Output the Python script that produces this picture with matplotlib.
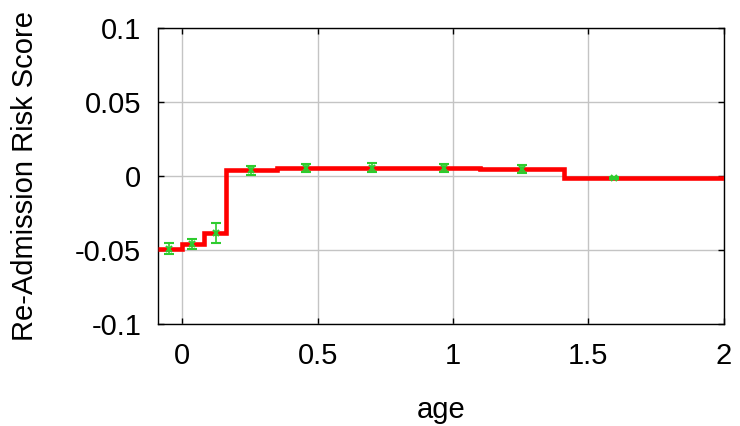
import numpy as np
import matplotlib.pyplot as plt

plt.rcParams['font.family'] = ['Liberation Sans', 'DejaVu Sans']

# step curve: bin edges and level in each bin
edges = [-0.09, 0.0, 0.08, 0.16, 0.35, 1.10, 1.41, 2.0]
levels = [-0.049, -0.046, -0.0385, 0.004, 0.0055, 0.005, -0.0015]

# per-bin means with error bars
pt_x = [-0.05, 0.037, 0.125, 0.255, 0.455, 0.70, 0.965, 1.255, 1.595]
pt_y = [-0.049, -0.046, -0.0385, 0.004, 0.0055, 0.0055, 0.0055, 0.0047, -0.0013]
pt_err = [0.004, 0.0035, 0.007, 0.003, 0.0025, 0.003, 0.0025, 0.0025, 0.001]

fig = plt.figure(figsize=(7.4, 4.26), dpi=100)
ax = fig.add_axes([0.2135, 0.2394, 0.7645, 0.6946])

ax.stairs(levels, edges, color='red', lw=3.3, baseline=None, zorder=3)
ax.errorbar(pt_x, pt_y, yerr=pt_err, fmt='x', color='#2ecc2e', ms=4, mew=1.5,
            elinewidth=1.2, capsize=3.5, capthick=1.2, zorder=4)

ax.set_xlim(-0.09, 2.0)
ax.set_ylim(-0.1, 0.1)
ax.set_xticks([0, 0.5, 1, 1.5, 2])
ax.set_xticklabels(['0', '0.5', '1', '1.5', '2'])
ax.set_yticks([-0.1, -0.05, 0, 0.05, 0.1])
ax.set_yticklabels(['-0.1', '-0.05', '0', '0.05', '0.1'])
ax.tick_params(direction='in', length=4, labelsize=21, top=True, right=True, width=1)
ax.tick_params(axis='y', pad=12)
ax.tick_params(axis='x', pad=13)
ax.grid(True, color='#c4c4c4', lw=1)
ax.set_axisbelow(True)
for s in ax.spines.values():
    s.set_linewidth(1)

ax.set_xlabel('age', fontsize=21, labelpad=19)
ax.set_ylabel('Re-Admission Risk Score', fontsize=21, labelpad=26)

fig.savefig('out.png', dpi=100)
